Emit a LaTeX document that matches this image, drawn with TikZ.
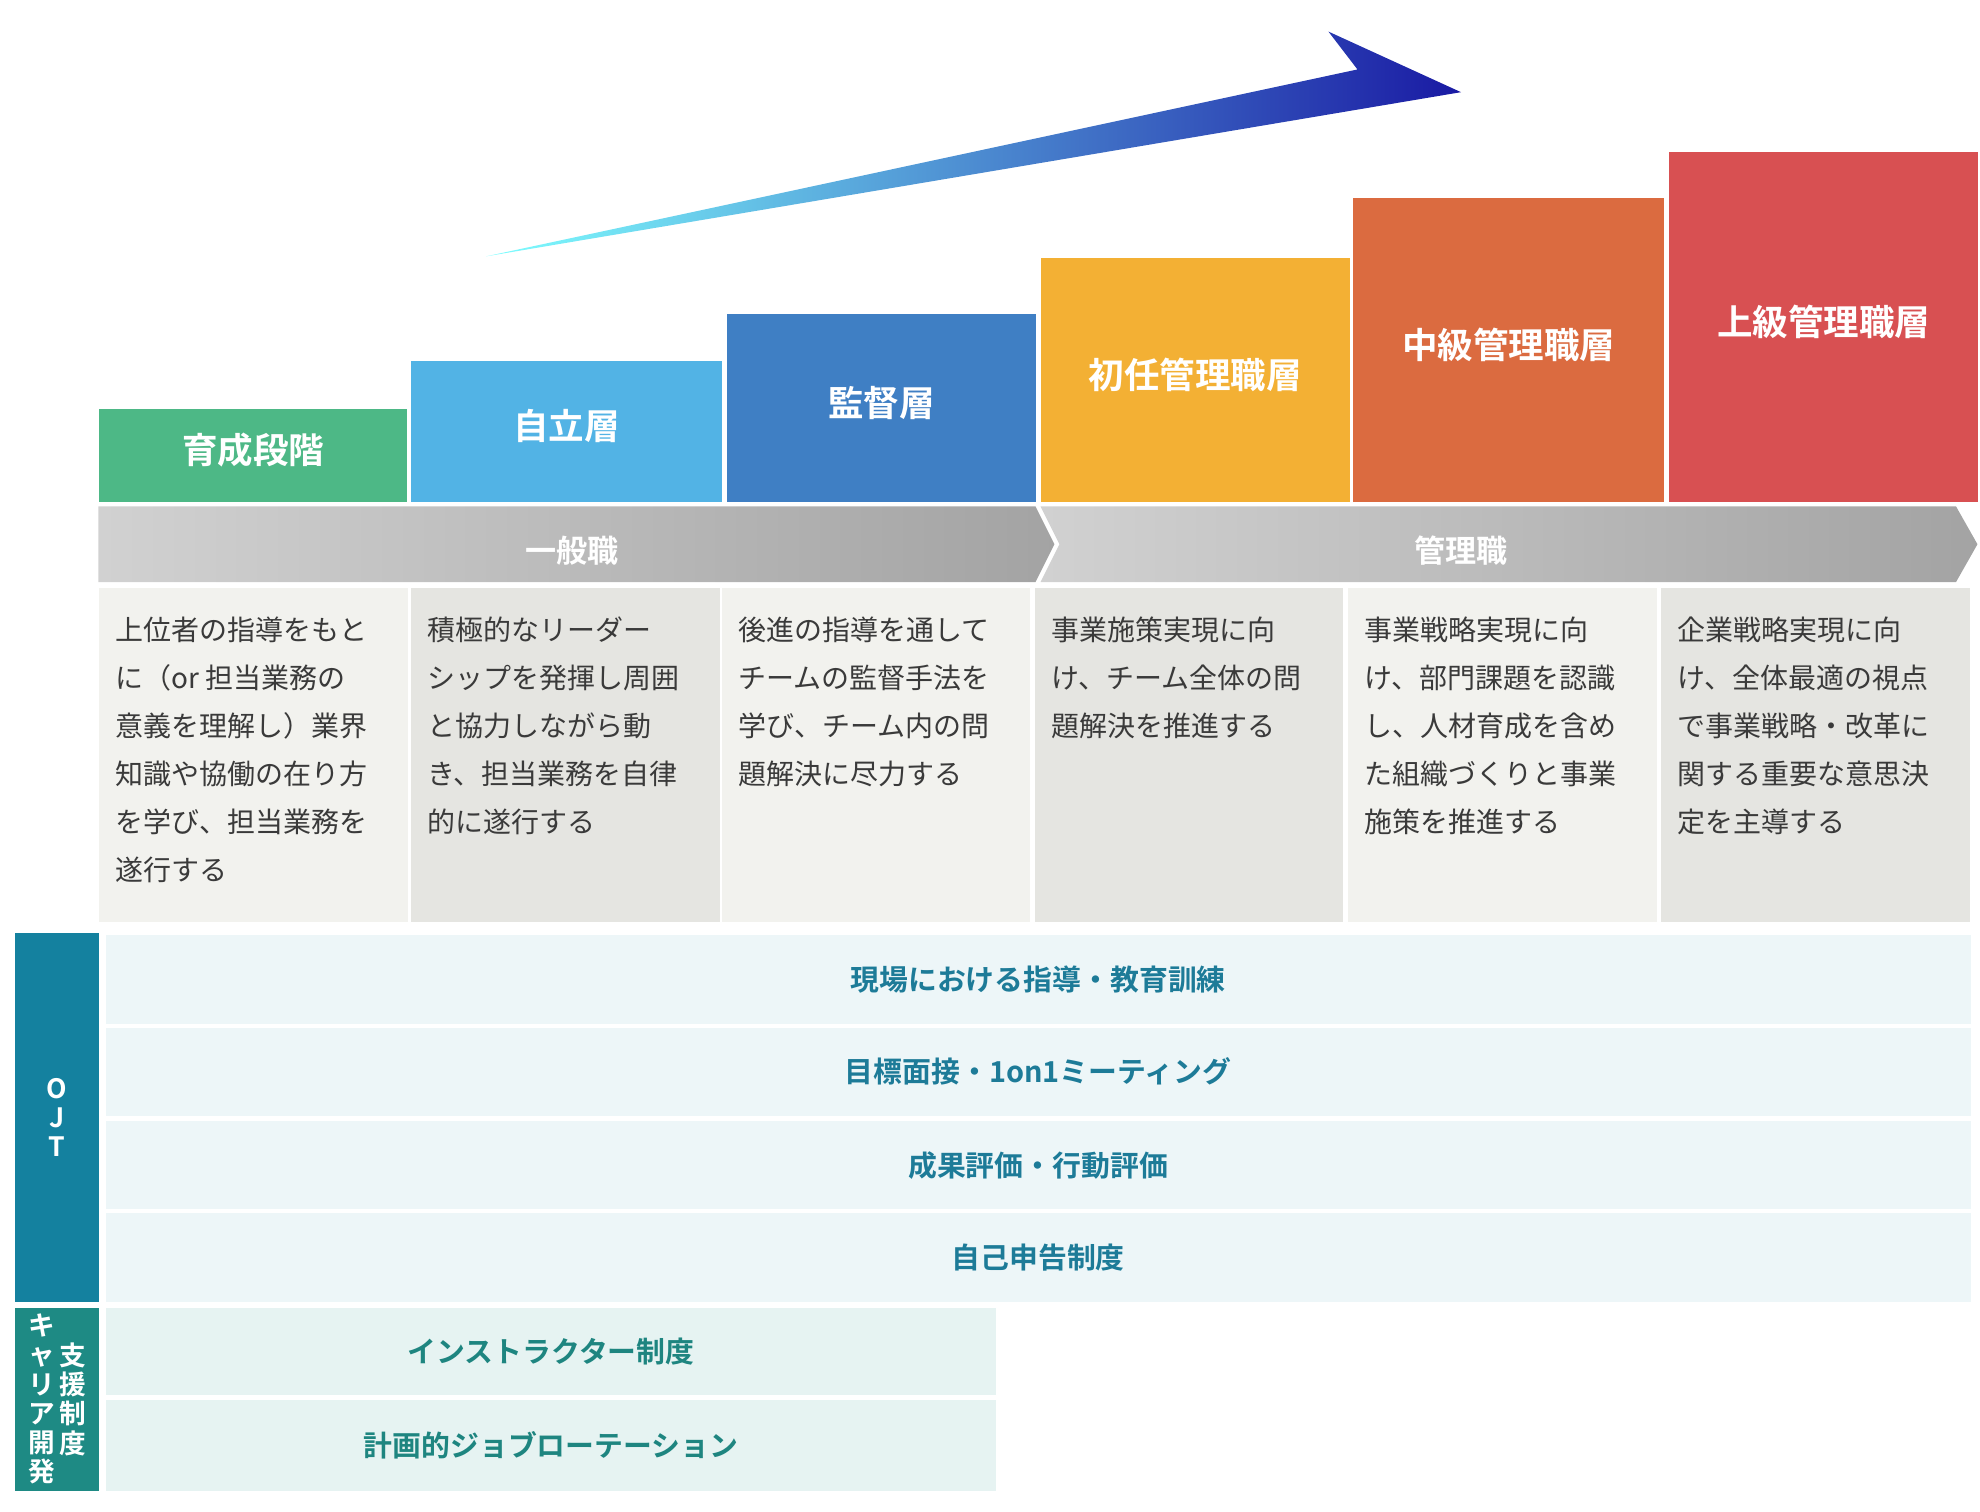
\documentclass[tikz,border=0pt]{standalone}
\usepackage{fontspec}
\setmainfont{Noto Sans CJK JP}
\newfontfamily\jpbold{Noto Sans CJK JP Bold}
\usetikzlibrary{positioning,calc}
\definecolor{stepA}{HTML}{4DB886}
\definecolor{stepB}{HTML}{52B3E5}
\definecolor{stepC}{HTML}{3F7FC4}
\definecolor{stepD}{HTML}{F3B034}
\definecolor{stepE}{HTML}{DB6B40}
\definecolor{stepF}{HTML}{D85052}
\definecolor{descA}{HTML}{F2F2EE}
\definecolor{descB}{HTML}{E5E5E1}
\definecolor{desctext}{HTML}{3A3A3A}
\definecolor{ojtdark}{HTML}{14819F}
\definecolor{ojtrowbg}{HTML}{EDF6F8}
\definecolor{ojttext}{HTML}{1D7B98}
\definecolor{cardark}{HTML}{1E8A84}
\definecolor{carrowbg}{HTML}{E6F3F2}
\definecolor{cartext}{HTML}{1E8580}
\tikzset
{
    stepbar/.style  = {anchor=north west, inner sep=0pt, text=white, font=\jpbold\fontsize{8}{9}\selectfont},
    descbox/.style  = {anchor=north west, inner sep=0pt, minimum width=2.44cm, minimum height=2.64cm},
    desctxt/.style  = {anchor=north west, align=left, text=desctext, inner sep=0pt, font=\fontsize{6.3}{10.8}\selectfont},
    ojtrow/.style   = {anchor=north west, inner sep=0pt, fill=ojtrowbg, text=ojttext, font=\jpbold\fontsize{6.5}{8}\selectfont},
    carrow/.style   = {anchor=north west, inner sep=0pt, fill=carrowbg, text=cartext, font=\jpbold\fontsize{6.5}{8}\selectfont},
    sidebar/.style  = {anchor=north west, inner sep=0pt, minimum width=0.67cm, text=white, font=\jpbold\fontsize{6}{6.6}\selectfont, align=center}
}
\begin{document}
\begin{tikzpicture}[x=0.01cm, y=-0.01cm]
    \useasboundingbox (0,0) rectangle (1568,1197);
    % rising arrow
    \shade[left color=cyan!50!white, right color=blue!60!black!90]
        (385,203) -- (1075,55) -- (1052,25) -- (1157,73) -- cycle;
    % steps
    \foreach \x/\t/\c/\w/\lab [count=\i] in
        {78/323/stepA/244/育成段階, 325/285/stepB/246/自立層, 575/248/stepC/245/監督層,
         824/204/stepD/244/初任管理職層, 1071/156/stepE/246/中級管理職層, 1321/120/stepF/245/上級管理職層}
    {
        \node [stepbar, fill=\c, minimum width=\w*0.01cm, minimum height={(397-\t)*0.01cm}] (step\i) at (\x,\t) {};
        \node [text=white, font=\jpbold\fontsize{8}{9}\selectfont] (steplabel\i) at ($(step\i.center)+(0,-4)$) {\lab};
    }
    % chevrons
    \shade[left color=black!18, right color=black!36]
        (78,401) -- (820,401) -- (835,431) -- (820,461) -- (78,461) -- cycle;
    \shade[left color=black!18, right color=black!36]
        (824,401) -- (1549,401) -- (1566,431) -- (1549,461) -- (824,461) -- (839,431) -- cycle;
    \node [text=white, font=\jpbold\fontsize{7}{8}\selectfont] (general) at (453,436) {一般職};
    \node [text=white, font=\jpbold\fontsize{7}{8}\selectfont] (manager) at (1157,436) {管理職};
    % descriptions
    \foreach \x/\c/\txt [count=\i] in
        {78/descA/{上位者の指導をもと\\に（or 担当業務の\\意義を理解し）業界\\知識や協働の在り方\\を学び、担当業務を\\遂行する},
         325/descB/{積極的なリーダー\\シップを発揮し周囲\\と協力しながら動\\き、担当業務を自律\\的に遂行する},
         571/descA/{後進の指導を通して\\チームの監督手法を\\学び、チーム内の問\\題解決に尽力する},
         819/descB/{事業施策実現に向\\け、チーム全体の問\\題解決を推進する},
         1067/descA/{事業戦略実現に向\\け、部門課題を認識\\し、人材育成を含め\\た組織づくりと事業\\施策を推進する},
         1315/descB/{企業戦略実現に向\\け、全体最適の視点\\で事業戦略・改革に\\関する重要な意思決\\定を主導する}}
    {
        \node [descbox, fill=\c] (desc\i) at (\x,465) {};
        \node [desctxt] (desctext\i) at (\x+13,488) {\txt};
    }
    % OJT
    \node [sidebar, fill=ojtdark, minimum height=2.92cm] (ojt) at (11,738) {O\\J\\T};
    \foreach \y/\lab [count=\i] in
        {740/現場における指導・教育訓練, 813/目標面接・1on1ミーティング,
         887/成果評価・行動評価, 960/自己申告制度 / 資格取得支援制度}
    {
        \node [ojtrow, minimum width=14.76cm, minimum height=0.70cm] (ojtrow\i) at (83,\y) {\lab};
    }
    % career support
    \node [sidebar, fill=cardark, minimum height=1.45cm] (career) at (11,1035) {};
    \node [text=white, font=\jpbold\fontsize{6}{6.6}\selectfont, align=center] (careerA) at (33,1108) {キ\\ャ\\リ\\ア\\開\\発};
    \node [text=white, font=\jpbold\fontsize{6}{6.6}\selectfont, align=center] (careerB) at (58,1108) {支\\援\\制\\度};
    \node [carrow, minimum width=7.05cm, minimum height=0.69cm] (carrow1) at (83,1035) {インストラクター制度};
    \node [carrow, minimum width=7.05cm, minimum height=0.72cm] (carrow2) at (83,1108) {計画的ジョブローテーション};
\end{tikzpicture}
\end{document}
